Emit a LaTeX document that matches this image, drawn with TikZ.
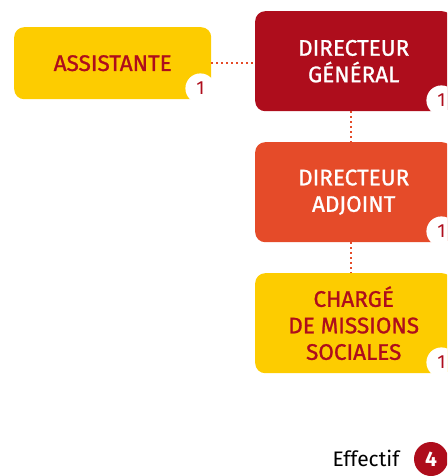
\documentclass[tikz,border=0pt]{standalone}
\usepackage{fontspec}
\setmainfont{Fira Sans}
\newfontfamily\medium[FakeBold=1.1]{Fira Sans}
\usepackage{xcolor}
\usepackage{tikz}
\definecolor{rouge}{HTML}{AE0D1C}
\definecolor{vermillon}{HTML}{E54B29}
\definecolor{jaune}{HTML}{FDCC00}

\begin{document}
\begin{tikzpicture}[x=1pt, y=-1pt,
    poste/.style={rounded corners=10pt, minimum width=197pt, minimum height=100pt,
        inner sep=0pt, align=center, anchor=north west, font=\medium\fontsize{22.5}{26.5}\selectfont},
    badge/.style={circle, fill=white, minimum size=30pt, inner sep=0pt,
        text=rouge, font=\fontsize{19}{19}\selectfont},
    lien/.style={vermillon, line width=2pt, dash pattern=on 2pt off 3pt}]
\useasboundingbox (0,0) rectangle (447,476);
\clip (0,0) rectangle (447,476);
\node[poste, fill=jaune, text=rouge, minimum height=72pt] (assistante) at (14,27) {ASSISTANTE};
\node[poste, fill=rouge, text=white] (dg) at (255,11) {DIRECTEUR\\GÉNÉRAL};
\node[poste, fill=vermillon, text=white] (adjoint) at (255,142) {DIRECTEUR\\ADJOINT};
\node[poste, fill=jaune, text=rouge] (charge) at (255,273) {CHARGÉ\\DE MISSIONS\\SOCIALES};
\node[badge] (nassistante) at ([shift={(-11,-11)}]assistante.south east) {1};
\node[badge] (ndg) at ([shift={(-11,-11)}]dg.south east) {1};
\node[badge] (nadjoint) at ([shift={(-11,-11)}]adjoint.south east) {1};
\node[badge] (ncharge) at ([shift={(-11,-11)}]charge.south east) {1};
\draw[lien] (assistante.east) -- (assistante.east -| dg.west);
\draw[lien] ([xshift=-3pt]dg.south) -- ([xshift=-3pt]adjoint.north);
\draw[lien] ([xshift=-3pt]adjoint.south) -- ([xshift=-3pt]charge.north);
\node[circle, fill=rouge, minimum size=34pt, inner sep=0pt, text=white,
    font=\fontsize{21}{21}\selectfont\bfseries] (total) at (431,459) {4};
\node[anchor=base east, font=\fontsize{21}{21}\selectfont] (effectif) at ([xshift=-11pt,yshift=-7pt]total.west) {Effectif};
\end{tikzpicture}
\end{document}
